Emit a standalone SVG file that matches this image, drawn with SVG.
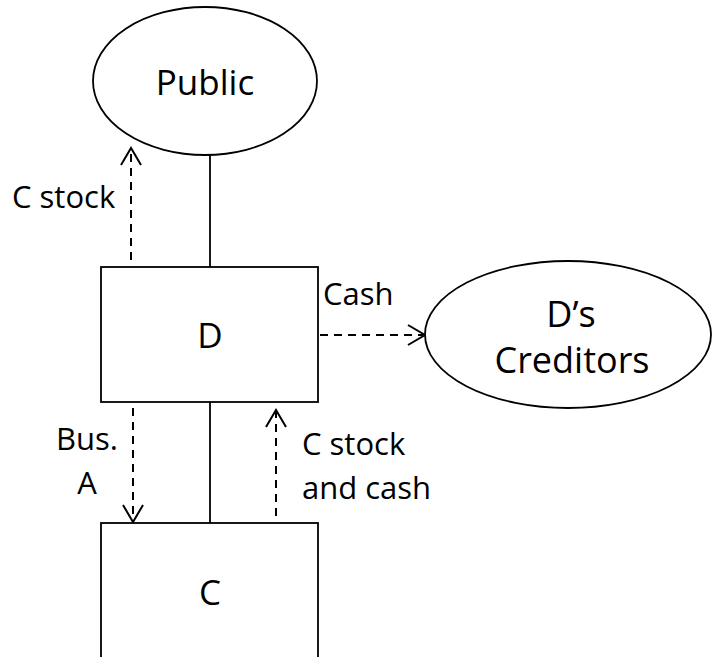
<svg xmlns="http://www.w3.org/2000/svg" width="712" height="657" viewBox="0 0 712 657">
<style>
.shape{fill:#fff;stroke:#000;stroke-width:1.8}
.line{fill:none;stroke:#000;stroke-width:1.8}
.dash{fill:none;stroke:#000;stroke-width:2;stroke-dasharray:8 6}
.head{fill:none;stroke:#000;stroke-width:2}
text{font-family:"Open Sans","Liberation Sans",sans-serif;fill:#000}
.big{font-size:35px}
.cr{font-size:36px}
.lbl{font-size:31px}
</style>
<rect width="712" height="657" fill="#fff"/>
<g id="connectors">
<line class="line" x1="210" y1="155" x2="210" y2="267"/>
<line class="line" x1="210" y1="402" x2="210" y2="523"/>
<line class="dash" x1="131" y1="260" x2="131" y2="150"/>
<polyline class="head" points="121,165 131,148 141,165"/>
<line class="dash" x1="320" y1="335" x2="423" y2="335"/>
<polyline class="head" points="408,325 425,335 408,345"/>
<line class="dash" x1="133" y1="408" x2="133" y2="520"/>
<polyline class="head" points="123,505 133,522 143,505"/>
<line class="dash" x1="276" y1="516" x2="276" y2="412"/>
<polyline class="head" points="266,427 276,410 286,427"/>
<text class="lbl" x="12" y="208">C stock</text>
<text class="lbl" x="323" y="305">Cash</text>
<text class="lbl" x="87" y="450" text-anchor="middle">Bus.</text>
<text class="lbl" x="87" y="494" text-anchor="middle">A</text>
<text class="lbl" x="302" y="455">C stock</text>
<text class="lbl" x="302" y="499">and cash</text>
</g>
<g id="public">
<ellipse class="shape" cx="205" cy="81" rx="112" ry="74"/>
<text class="big" x="205" y="95" text-anchor="middle">Public</text>
</g>
<g id="d">
<rect class="shape" x="101" y="267" width="217" height="135"/>
<text class="big" x="210" y="348" text-anchor="middle">D</text>
</g>
<g id="creditors">
<ellipse class="shape" cx="568" cy="334.5" rx="143" ry="73.5"/>
<text class="cr" x="571" y="327" text-anchor="middle">D’s</text>
<text class="cr" x="572" y="373" text-anchor="middle">Creditors</text>
</g>
<g id="c">
<rect class="shape" x="101" y="523" width="217" height="160"/>
<text class="big" x="210" y="605" text-anchor="middle">C</text>
</g>
</svg>
